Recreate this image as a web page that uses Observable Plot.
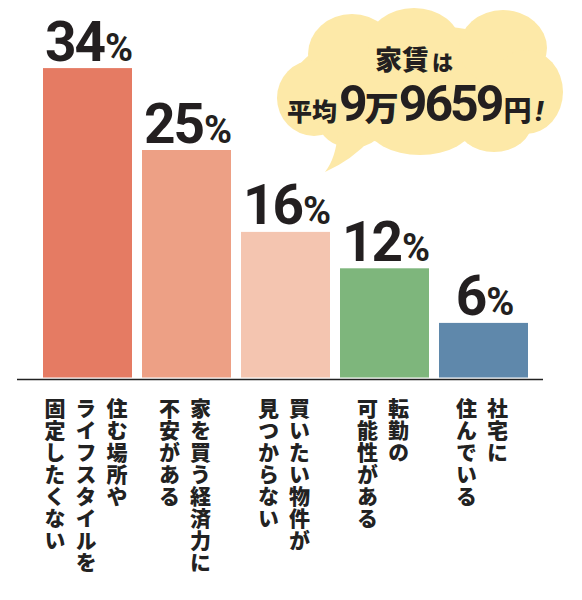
<!DOCTYPE html>
<html>
<head>
<meta charset="utf-8">
<script src="https://cdn.jsdelivr.net/npm/d3@7"></script>
<script src="https://cdn.jsdelivr.net/npm/@observablehq/plot@0.6"></script>
<style>
  body { margin: 0; background: #fff; }
  #chart { width: 582px; height: 600px; }
</style>
</head>
<body>
<div id="chart"></div>
<script>
// reasons (each line becomes one vertical column, first line on the right)
const reasons = [
  "住む場所や\nライフスタイルを\n固定したくない",
  "家を買う経済力に\n不安がある",
  "買いたい物件が\n見つからない",
  "転勤の\n可能性がある",
  "社宅に\n住んでいる"
];
const shares = [34, 25, 16, 12, 6];
const barColors = ["#e57b63", "#eda085", "#f4c5b0", "#7eb67c", "#5f88ab"];

// speech bubble text
const bubbleLine1 = ["家賃", "は"];
const bubbleLine2 = ["平均", "9", "万", "9659", "円", "!"];

const data = reasons.map((r, i) => ({reason: r, pct: shares[i], color: barColors[i]}));

// split labels into columns, offset from the bar centre
const colGap = 31;
const columns = data.flatMap(d => {
  const lines = d.reason.split("\n");
  return lines.map((line, j) => ({reason: d.reason, line, offset: ((lines.length - 1) / 2 - j) * colGap - 2}));
});
const labelMarks = Array.from(d3.group(columns, d => d.offset), ([offset, cols]) =>
  Plot.text(cols, {
    x: "reason",
    text: "line",
    frameAnchor: "bottom",
    dx: offset,
    dy: 20,
    textAnchor: "start",
    lineAnchor: "bottom",
    fontFamily: "Noto Sans CJK JP",
    fontSize: 21,
    fontWeight: 900,
    fill: "#222",
    className: "cat-label"
  })
);

const plot = Plot.plot({
  width: 582,
  height: 600,
  marginTop: 13.5,
  marginBottom: 222.5,
  marginLeft: 37,
  marginRight: 48,
  x: {domain: reasons, paddingInner: 0.1, paddingOuter: 0.05, axis: null},
  y: {domain: [0, 40], axis: null},
  marks: [
    Plot.barY(data, {x: "reason", y: "pct", fill: "color"}),
    Plot.ruleY([0], {stroke: "#222", strokeWidth: 1.5, dy: 1.5, insetLeft: -20, insetRight: -9}),
    Plot.text(data, {
      x: "reason",
      y: "pct",
      text: d => d.pct + "%",
      dy: -8,
      lineAnchor: "bottom",
      fontFamily: "Roboto",
      fontSize: 55,
      fontWeight: 700,
      fill: "#231f20",
      className: "pct"
    }),
    ...labelMarks
  ]
});

document.getElementById("chart").appendChild(plot);

const svg = d3.select(plot);

// vertical Japanese labels
svg.selectAll(".cat-label text")
  .attr("writing-mode", "vertical-rl")
  .style("text-orientation", "upright")
  .style("letter-spacing", "1px");

// smaller percent sign
svg.selectAll(".pct text").each(function() {
  const num = this.textContent.replace("%", "");
  const t = d3.select(this);
  t.text(num).style("letter-spacing", "-2px");
  t.append("tspan").attr("font-size", 38).attr("dx", 1).text("%");
});

// cloud speech bubble
const bubble = svg.append("g").attr("fill", "#fde9a8");
const lobes = [
  [420, 85, 128, 60],
  [352, 54, 44, 40],
  [414, 44, 46, 36],
  [503, 48, 44, 38],
  [526, 92, 37, 42],
  [314, 98, 37, 38],
  [494, 122, 38, 30],
  [420, 126, 52, 29],
  [352, 120, 34, 28]
];
bubble.selectAll("ellipse").data(lobes).join("ellipse")
  .attr("cx", d => d[0]).attr("cy", d => d[1])
  .attr("rx", d => d[2]).attr("ry", d => d[3]);
bubble.append("path").attr("d", "M338,132 Q336,158 325,172 Q352,160 372,138 Z");

const bt = svg.append("g")
  .attr("fill", "#231f20")
  .attr("text-anchor", "middle")
  .attr("font-weight", 900);

const l1 = bt.append("text").attr("x", 414).attr("y", 70)
  .attr("font-family", "Noto Sans CJK JP");
l1.append("tspan").attr("font-size", 27).text(bubbleLine1[0]);
l1.append("tspan").attr("font-size", 21).attr("dx", 3).text(bubbleLine1[1]);

const l2 = bt.append("text").attr("x", 415).attr("y", 121);
const spec2 = [
  {font: "Noto Sans CJK JP", size: 25, dx: 0},
  {font: "Roboto", size: 50, dx: 2},
  {font: "Noto Sans CJK JP", size: 34, dx: 0},
  {font: "Roboto", size: 50, dx: 0},
  {font: "Noto Sans CJK JP", size: 28, dx: 2},
  {font: "Roboto", size: 28, dx: 4}
];
bubbleLine2.forEach((s, i) => {
  const ts = l2.append("tspan")
    .attr("font-family", spec2[i].font)
    .attr("font-size", spec2[i].size)
    .attr("dx", spec2[i].dx)
    .text(s);
  if (spec2[i].font === "Roboto" && s !== "!") ts.attr("letter-spacing", "-3px").attr("font-weight", 700);
  if (s === "!") ts.attr("font-style", "italic");
});
</script>
</body>
</html>
